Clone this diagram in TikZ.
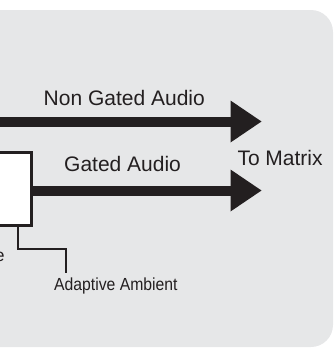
\documentclass[tikz,border=0pt]{standalone}
\usepackage{fontspec}
\setmainfont{Liberation Sans}
\usetikzlibrary{arrows.meta}
\definecolor{bg}{HTML}{E6E7E8}
\definecolor{ink}{HTML}{231F20}
\begin{document}
\begin{tikzpicture}[x=1pt,y=-1pt,
  bigarrow/.style={draw=ink, line width=10pt, -{Triangle[length=31pt 0, width=42pt 0, line width=0pt, fill=ink]}},
  biglbl/.style={text=ink, inner sep=0pt, anchor=base west, font=\fontsize{21}{25}\selectfont},
  smalllbl/.style={text=ink, inner sep=0pt, font=\fontsize{17.5}{21}\selectfont},
  mixbox/.style={draw=ink, fill=white, line width=3pt, minimum width=51pt, minimum height=72.5pt, inner sep=0pt},
  thin/.style={draw=ink, line width=1.8pt}]
\useasboundingbox (0,0) rectangle (334,349);
\clip (0,0) rectangle (334,349);
\fill[bg, rounded corners=22pt] (-40,10) rectangle (333,347);
% non gated
\coordinate (ngStart) at (-5,121.5);
\coordinate (ngTip) at (261.5,121.5);
\draw[bigarrow] (ngStart) -- (ngTip);
\node[biglbl] (nglbl) at (43.5,105) {Non Gated Audio};
% box and gated
\node[mixbox] (mixer) at (5.5,189) {};
\coordinate (gTip) at (261.5,190.5);
\draw[bigarrow] (mixer.east |- gTip) -- (gTip);
\node[biglbl] (glbl) at (64,171.7) {Gated Audio};
\node[biglbl] (tomatrix) at (237.3,165) {To Matrix};
% adaptive ambient
\node[smalllbl, anchor=base west] (ambient) at (54,290.7) {\scalebox{0.9}[1]{Adaptive Ambient}};
\node[smalllbl, anchor=base east] (cut) at (4.7,261.5) {e};
\coordinate (ambA) at (18.3,249);
\coordinate (ambB) at (66,249);
\draw[thin, shorten >=5pt] (mixer.south -| ambA) -- (ambA) -- (ambB) -- (ambient.north -| ambB);
\end{tikzpicture}
\end{document}
